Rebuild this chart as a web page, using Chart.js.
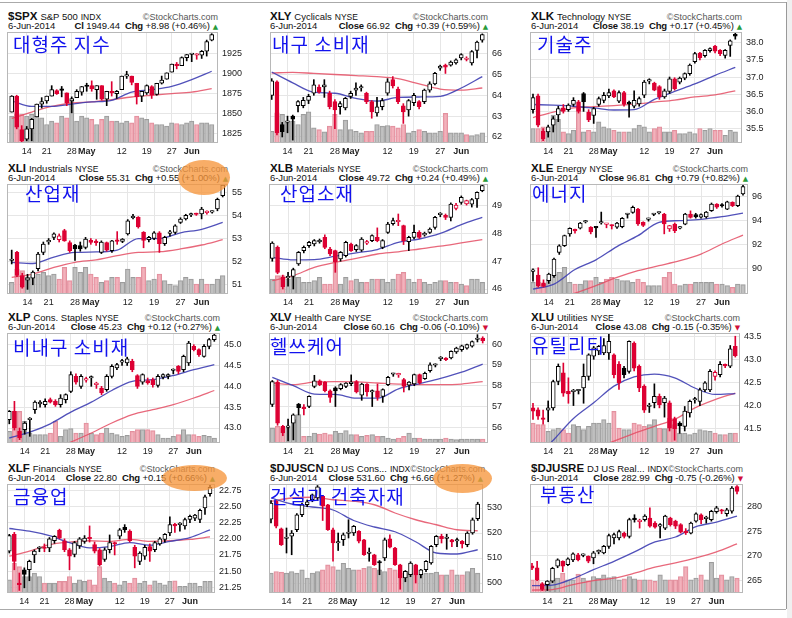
<!DOCTYPE html>
<html>
<head>
<meta charset="utf-8">
<script src="https://cdn.jsdelivr.net/npm/chart.js@4.4.0/dist/chart.umd.min.js"></script>
<style>
  body { margin: 0; width: 792px; height: 618px; overflow: hidden; position: relative; background: #fff;
         font-family: "Liberation Sans", Arial, sans-serif; }
  .abs { position: absolute; }
  .hd { position: absolute; color: #111; white-space: nowrap; }
  .r1, .r2 { display: flex; justify-content: space-between; align-items: baseline; height: 11px; line-height: 11px; }
  .sym { font-weight: bold; font-size: 11.5px; }
  .nm { font-size: 9.5px; margin-left: 3px; }
  .ex { font-size: 8.5px; margin-left: 3px; }
  .logo { font-size: 9px; color: #555; }
  .r2 { font-size: 9.5px; letter-spacing: -0.1px; }
  .cg { margin-left: 5px; }
  .tri { font-family: "DejaVu Sans", sans-serif; font-size: 7px; margin-left: 3px; }
  .ko { position: absolute; font-family: "Noto Sans CJK KR", sans-serif; font-size: 19px; line-height: 19px;
        color: #1212ee; letter-spacing: 1px; white-space: pre; }
  .oval { position: absolute; border-radius: 50%; background: rgba(246,150,60,0.78); }
</style>
</head>
<body>
<script>
// shared x axis: 41 sessions, 9 Apr 2014 .. 6 Jun 2014
const xTickIdx = [3, 7, 12, 15, 22, 27, 32, 36];
const xTickText = ['14', '21', '28', 'May', '12', '19', '27', 'Jun'];
const maIdx = [0, 4, 8, 12, 16, 20, 24, 28, 32, 36, 40];

// $SPX
const spxO = [1852,1872,1830,1818,1831,1846,1862,1866,1872,1879,1881,1876,1866,1870,1877,1885,1885,1880,1885,1868,1878,1875,1880,1897,1897,1888,1872,1876,1884,1874,1888,1893,1902,1911,1910,1920,1924,1923,1923,1928,1942];
const spxH = [1872.5,1873,1835,1834,1844,1862,1870,1872,1885,1880,1884,1876,1871,1880,1884,1888,1891,1885,1885,1878,1890,1879,1897,1903,1897,1888,1878,1886,1885,1888,1897,1901,1912,1914,1921,1924,1925,1925,1929,1942,1950];
const spxL = [1852,1831,1814,1816,1816,1846,1857,1863,1872,1874,1871,1860,1851,1870,1873,1878,1878,1868,1867,1860,1872,1869,1880,1894,1886,1862,1865,1874,1869,1873,1887,1893,1902,1906,1910,1916,1915,1918,1919,1922,1941];
const spxC = [1872,1833,1816,1831,1843,1862,1865,1872,1880,1875,1879,1863,1869,1878,1884,1884,1881,1885,1868,1878,1876,1878,1897,1897,1889,1871,1878,1885,1873,1888,1892,1901,1912,1910,1920,1924,1925,1924,1928,1940,1949];
const spxV = [80,85,85,80,85,80,75,55,65,60,80,75,125,65,80,75,70,55,70,80,65,65,60,65,60,80,75,70,60,55,55,50,60,58,55,60,65,55,60,60,55];
const spxMa1 = [1866,1859,1859,1862,1864.6,1866.7,1877,1880,1884,1892.5,1903];
const spxMa2 = [1844,1852,1859,1863.3,1864.6,1867.5,1870.8,1873,1875,1877,1881.3];
const spxTicks = [1825, 1850, 1875, 1900, 1925];

// XLY
const xlyO = [64.0,64.65,62.6,62.7,63.0,63.5,63.5,63.75,64.1,64.4,64.4,64.1,63.7,63.45,63.4,63.95,64.25,64.35,64.1,63.7,63.15,63.45,64.1,64.75,64.3,63.5,63.3,63.65,63.7,63.7,64.25,64.55,65.3,65.45,65.45,65.55,65.8,65.72,65.55,66.15,66.65];
const xlyH = [64.8,64.7,62.7,63.0,63.05,63.75,63.9,64.05,64.75,64.5,64.75,64.2,63.8,63.7,63.9,64.2,64.6,64.5,64.15,63.75,63.9,63.85,64.8,64.9,64.4,63.6,63.8,64.1,63.75,64.3,64.65,65.1,65.45,65.5,65.65,65.75,66.0,65.85,66.15,66.6,66.95];
const xlyL = [63.8,62.1,62.0,62.2,61.85,63.2,63.4,63.6,64.0,64.1,63.9,63.35,62.4,63.1,63.3,63.85,64.0,64.2,63.6,62.9,63.0,63.3,64.0,64.35,63.6,62.65,63.0,63.5,63.35,63.6,64.15,64.5,65.2,65.05,65.4,65.5,65.7,65.65,65.45,65.8,66.55];
const xlyC = [64.7,62.2,62.25,62.75,62.85,63.7,63.76,63.95,64.5,64.15,64.5,63.45,63.3,63.6,63.85,64.1,64.35,64.4,63.7,63.2,63.45,63.75,64.65,64.45,63.7,63.2,63.75,64.0,63.45,64.25,64.55,65.05,65.4,65.35,65.6,65.7,65.95,65.78,66.1,66.55,66.92];
const xlyV = [35,90,85,60,65,55,85,93,45,40,33,50,85,40,68,40,35,30,35,35,55,50,52,50,45,55,30,35,40,35,30,30,35,88,30,30,30,25,22,25,30];
const xlyMa1 = [65.12,64.6,64.15,64.1,63.85,63.72,63.9,63.92,63.95,64.35,64.9];
const xlyMa2 = [65.07,65.1,65.05,65.0,64.95,64.9,64.8,64.55,64.3,64.25,64.35];
const xlyTicks = [62, 63, 64, 65, 66];

// XLK
const xlkO = [36.05,36.45,35.42,35.4,35.6,35.9,36.1,36.05,36.2,36.28,36.52,35.98,35.88,36.2,36.32,36.45,36.6,36.3,36.55,36.25,36.15,36.22,36.47,36.88,36.82,36.72,36.42,36.58,36.95,36.85,36.97,37.1,37.45,37.7,37.62,37.77,37.9,37.78,37.63,37.92,38.24];
const xlkH = [36.5,36.5,35.5,35.6,35.85,36.15,36.2,36.22,36.4,36.32,36.55,36.05,36.12,36.42,36.55,36.65,36.63,36.6,36.58,36.3,36.6,36.42,36.9,36.95,36.85,36.75,36.65,37.0,36.98,37.0,37.12,37.38,37.72,37.72,37.8,37.85,37.92,37.8,37.8,38.08,38.28];
const xlkL = [35.95,35.55,35.15,35.25,35.4,35.7,35.95,36.0,36.15,35.95,36.0,35.7,35.65,36.15,36.25,36.4,36.4,36.25,36.15,35.83,36.1,36.15,36.4,36.8,36.6,36.35,36.38,36.52,36.62,36.8,36.92,37.05,37.4,37.5,37.58,37.72,37.7,37.62,37.55,37.6,38.1];
const xlkC = [36.4,35.6,35.2,35.55,35.78,36.08,36.0,36.18,36.32,36.0,36.28,35.75,36.08,36.37,36.47,36.55,36.42,36.55,36.2,36.22,36.32,36.37,36.85,36.9,36.62,36.42,36.6,36.95,36.66,36.97,37.1,37.35,37.68,37.56,37.78,37.83,37.75,37.68,37.78,38.05,38.19];
const xlkV = [43,43,48,35,83,70,33,28,38,103,33,38,33,63,48,43,38,33,33,33,43,53,48,33,43,48,33,33,38,28,28,33,28,43,38,43,38,38,23,38,33];
const xlkMa1 = [36.2,36.18,36.15,36.1,36.04,36.05,36.35,36.58,36.8,37.05,37.28];
const xlkMa2 = [35.82,35.98,36.1,36.14,36.17,36.21,36.27,36.33,36.42,36.48,36.6];
const xlkTicks = [35.5, 36, 36.5, 37, 37.5, 38];

// XLI
const xliO = [52.05,52.4,51.4,51.2,51.28,51.7,52.4,52.85,53.05,52.95,53.34,52.82,52.72,52.7,52.62,52.92,52.88,52.4,52.83,52.48,52.92,52.88,53.2,53.9,53.92,53.27,52.95,53.0,53.25,52.78,53.22,53.27,53.7,53.85,54.02,54.07,54.06,54.12,54.14,54.28,54.86];
const xliH = [52.5,52.45,51.5,51.45,51.6,52.4,52.85,53.0,53.25,53.2,53.4,52.9,52.75,52.85,53.05,53.0,52.95,52.9,52.85,52.92,53.3,53.0,53.82,54.05,53.95,53.3,53.1,53.3,53.3,53.1,53.35,53.6,53.9,54.05,54.1,54.1,54.35,54.2,54.2,54.75,55.35];
const xliL = [51.9,51.35,50.85,50.8,51.0,51.6,52.3,52.75,52.95,52.85,52.88,52.4,52.05,52.45,52.55,52.75,52.7,52.35,52.45,52.4,52.75,52.82,53.15,53.85,53.45,52.6,52.85,52.95,52.4,52.7,53.1,53.2,53.65,53.8,53.95,54.0,53.85,54.05,54.1,54.2,54.8];
const xliC = [52.1,51.4,50.9,51.3,51.55,52.33,52.76,52.92,53.2,53.12,52.9,52.48,52.55,52.55,52.98,52.83,52.82,52.85,52.5,52.9,52.88,52.98,53.77,53.92,53.5,52.92,53.05,53.25,52.78,53.05,53.27,53.55,53.84,54.0,54.05,54.04,54.28,54.16,54.18,54.7,55.31];
const xliV = [35,75,70,50,55,60,65,55,60,45,80,40,80,65,80,60,50,35,40,50,50,35,75,50,50,80,40,45,60,40,30,25,40,50,45,30,45,30,30,45,55];
const xliMa1 = [51.97,51.92,52.2,52.4,52.42,52.5,53.0,53.0,53.25,53.4,53.7];
const xliMa2 = [51.32,51.46,51.75,51.97,52.08,52.26,52.4,52.43,52.55,52.72,52.95];
const xliTicks = [51, 52, 53, 54, 55];

// XLB
const xlbO = [47.1,47.5,46.42,46.4,46.45,46.9,47.38,47.56,47.62,47.7,47.86,47.44,47.38,47.08,47.2,47.62,47.42,47.4,47.65,47.74,47.86,47.5,48.04,48.35,48.42,48.28,47.7,47.86,48.04,47.95,48.04,48.22,48.68,48.65,48.58,48.9,49.12,49.06,49.05,49.24,49.54];
const xlbH = [47.7,47.55,46.5,46.6,46.75,47.35,47.55,47.72,47.78,47.8,47.95,47.5,47.4,47.35,47.72,47.65,47.6,47.85,47.75,47.95,48.2,47.78,48.4,48.55,48.7,48.3,47.9,48.3,48.1,48.05,48.2,48.62,48.75,48.7,49.1,49.08,49.35,49.2,49.26,49.5,49.78];
const xlbL = [47.0,46.55,46.0,46.1,46.0,46.85,47.3,47.5,47.55,47.65,47.45,47.2,46.6,47.0,47.15,47.35,47.35,47.35,47.6,47.7,47.7,47.45,48.0,48.3,48.28,47.6,47.38,47.8,47.82,47.9,48.0,48.15,48.6,48.5,48.45,48.85,49.05,49.02,48.95,48.94,49.5];
const xlbC = [47.65,46.6,46.08,46.45,46.7,47.32,47.5,47.68,47.74,47.75,47.5,47.26,46.98,47.32,47.68,47.38,47.56,47.8,47.7,47.92,47.74,47.74,48.34,48.46,48.44,47.74,47.86,48.04,47.86,48.0,48.16,48.58,48.7,48.58,49.06,49.02,49.3,49.18,49.22,49.48,49.72];
const xlbV = [45,55,55,45,50,50,35,35,40,50,30,30,125,30,50,40,45,35,35,45,45,45,35,45,60,65,45,35,45,35,30,35,40,40,35,35,30,25,45,45,35];
const xlbMa1 = [47.14,47.05,47.06,47.18,47.3,47.42,47.68,47.8,48.0,48.32,48.58];
const xlbMa2 = [46.3,46.48,46.78,46.96,47.1,47.26,47.34,47.44,47.54,47.66,47.78];
const xlbTicks = [46, 47, 48, 49];

// XLE
const xleO = [89.8,89.5,88.85,89.03,89.44,91.37,91.92,92.9,93.2,93.36,93.88,93.44,93.45,93.8,93.68,93.6,93.45,93.5,94.5,94.67,94.95,93.85,94.1,94.5,94.62,94.54,93.3,93.7,93.38,93.7,94.54,94.5,94.28,94.3,94.82,95.37,95.3,94.95,95.5,95.23,96.19];
const xleH = [90.0,90.1,89.1,89.65,90.9,92.0,92.8,93.4,93.3,93.85,94.0,93.5,93.5,94.7,93.75,93.65,93.85,94.25,94.6,95.2,95.0,93.9,94.2,94.6,94.7,94.6,93.6,93.8,93.5,94.6,94.8,94.6,94.55,94.75,95.45,95.4,95.4,95.6,95.55,96.1,96.95];
const xleL = [89.0,88.5,88.5,88.8,89.3,91.2,91.85,92.7,92.95,93.3,93.8,92.9,92.6,93.7,93.4,93.3,93.35,93.4,94.2,94.6,93.6,93.5,93.95,94.4,94.55,92.9,93.1,93.0,93.3,93.65,94.2,94.2,94.2,94.2,94.75,95.0,95.1,94.9,95.15,95.15,96.1];
const xleC = [89.9,88.62,88.55,89.58,90.82,91.92,92.75,93.35,93.15,93.8,93.92,93.05,93.4,93.82,93.72,93.55,93.8,94.18,94.55,95.09,93.72,93.6,94.13,94.55,94.66,93.72,93.58,93.16,93.44,94.54,94.26,94.3,94.5,94.7,95.37,95.1,95.2,95.55,95.23,96.02,96.81];
const xleV = [35,35,30,45,60,65,80,35,30,30,40,40,50,35,45,50,45,40,40,35,45,35,25,25,25,50,65,30,25,30,30,35,35,35,35,30,30,25,20,30,28];
const xleMa1 = [88.34,88.75,89.95,90.75,91.85,92.75,93.85,94.0,94.1,94.32,94.62];
const xleMa2 = [87.0,87.5,88.0,88.62,89.3,89.86,90.27,90.68,91.23,92.06,92.8];
const xleTicks = [90, 92, 94, 96];

// XLP
const xlpO = [43.2,43.4,42.92,42.96,43.2,43.44,43.58,43.56,43.68,43.64,43.56,43.68,43.88,44.24,44.0,44.15,44.2,44.04,43.96,43.92,44.24,44.44,44.58,44.56,44.6,44.26,44.1,44.14,44.16,44.02,44.22,44.24,44.38,44.48,44.4,44.56,44.96,44.88,44.72,44.96,45.12];
const xlpH = [43.42,43.64,43.0,43.15,43.25,43.65,43.66,43.7,43.72,43.68,43.8,43.82,44.35,44.3,44.28,44.22,44.25,44.1,44.0,44.28,44.52,44.55,44.65,44.7,44.65,44.28,44.3,44.2,44.2,44.28,44.3,44.3,44.42,44.5,44.75,45.08,45.0,44.9,45.0,45.15,45.28];
const xlpL = [43.1,42.95,42.72,42.85,42.8,43.35,43.5,43.5,43.6,43.52,43.5,43.6,43.85,44.05,43.95,44.1,44.0,43.95,43.8,43.88,44.2,44.4,44.5,44.5,44.35,43.95,44.05,44.05,43.98,43.98,44.18,44.18,44.3,44.3,44.35,44.5,44.85,44.72,44.7,44.9,45.08];
const xlpC = [43.4,43.0,42.76,43.12,43.22,43.62,43.62,43.64,43.62,43.56,43.72,43.8,44.28,44.1,44.24,44.18,44.22,44.07,43.84,44.24,44.48,44.52,44.6,44.66,44.4,44.0,44.28,44.08,44.04,44.24,44.28,44.28,44.4,44.36,44.72,45.04,44.88,44.76,44.96,45.12,45.23];
const xlpV = [35,95,95,65,30,25,25,25,30,65,20,40,43,30,30,60,30,25,30,45,30,25,20,23,35,40,40,40,37,25,15,15,20,25,40,25,25,20,23,20,15];
const xlpMa1 = [42.76,42.9,43.1,43.38,43.62,43.9,44.12,44.16,44.26,44.4,44.52];
const xlpMa2 = [42.0,42.25,42.45,42.66,42.88,43.12,43.32,43.44,43.56,43.72,43.9];
const xlpTicks = [43, 43.5, 44, 44.5, 45];

// XLV
const xlvO = [57.1,58.18,56.05,56.0,56.2,57.12,56.92,57.0,57.97,58.24,58.18,57.76,57.9,57.86,57.97,58.1,58.2,57.54,58.08,57.7,57.76,57.49,58.05,58.55,58.52,58.29,58.02,58.08,58.53,58.34,58.72,58.98,59.3,59.33,59.33,59.62,59.73,59.8,59.9,60.22,60.29];
const xlvH = [58.25,58.25,56.1,56.4,56.65,57.15,57.1,57.52,58.5,58.28,58.2,57.8,57.95,58.1,58.15,58.52,58.25,58.12,58.1,57.8,58.08,57.85,58.45,58.6,58.6,58.35,58.2,58.56,58.56,58.65,59.1,59.05,59.4,59.35,59.68,59.85,59.95,60.0,60.15,60.45,60.35];
const xlvL = [57.0,56.1,55.6,55.35,55.4,56.6,56.6,56.95,57.9,58.0,57.7,57.2,57.0,57.8,57.9,58.0,57.65,57.3,57.5,57.0,57.3,57.2,58.0,58.45,58.4,57.7,57.8,58.0,58.08,58.3,58.65,58.9,59.2,59.2,59.28,59.55,59.65,59.75,59.85,60.1,60.05];
const xlvC = [58.2,56.2,55.73,56.05,56.6,56.95,56.9,57.49,58.24,58.05,57.76,57.44,57.75,58.05,58.13,58.18,57.7,58.08,57.7,57.76,57.44,57.81,58.4,58.57,58.53,57.97,58.18,58.53,58.13,58.6,59.0,59.0,59.33,59.25,59.65,59.81,59.92,59.97,60.12,60.22,60.16];
const xlvV = [45,50,45,45,70,85,20,20,30,27,30,25,35,30,37,25,25,20,23,25,20,20,15,12,15,20,30,15,15,12,12,12,12,15,12,10,12,12,12,12,12];
const xlvMa1 = [58.4,58.0,57.6,57.58,57.4,57.4,57.85,58.1,58.35,58.65,59.04];
const xlvMa2 = [58.13,58.05,58.18,58.2,58.18,58.13,58.08,58.05,58.05,58.08,58.2];
const xlvTicks = [56, 57, 58, 59, 60];

// XLU
const xluO = [41.95,41.91,41.73,41.9,41.95,42.52,42.71,42.31,42.3,42.32,42.38,42.63,43.07,43.18,43.14,43.14,43.1,42.89,42.81,42.74,43.35,42.85,42.42,41.98,42.06,42.2,42.06,42.06,41.72,41.62,41.55,41.84,42.12,42.09,42.34,42.34,42.63,42.67,42.88,42.85,43.28];
const xluH = [42.05,41.95,41.9,42.1,42.55,42.9,42.92,42.6,42.35,42.35,42.9,43.12,43.28,43.3,43.45,43.55,43.12,42.95,42.85,43.4,43.38,42.88,42.45,42.05,42.47,42.25,42.2,42.1,41.75,41.65,41.98,42.12,42.18,42.38,42.52,42.78,42.75,42.95,42.9,43.3,43.5];
const xluL = [41.7,41.7,41.6,41.65,41.9,42.45,42.2,42.05,42.0,42.25,42.05,42.55,43.0,43.1,43.1,43.0,42.6,42.35,42.6,42.7,42.75,42.3,41.85,41.85,41.95,41.95,41.75,41.45,41.25,41.4,41.45,41.75,42.05,42.0,42.3,42.3,42.55,42.62,42.82,42.82,43.05];
const xluC = [41.88,41.77,41.7,41.95,42.52,42.85,42.27,42.25,42.32,42.32,42.63,43.1,43.25,43.28,43.3,43.39,42.67,42.49,42.67,43.39,42.81,42.38,41.9,42.0,42.2,42.02,42.16,41.51,41.5,41.56,41.88,42.09,42.14,42.34,42.49,42.74,42.72,42.89,42.86,43.23,43.08];
const xluV = [60,55,55,35,40,45,40,30,55,50,40,50,60,60,70,60,95,45,40,40,60,55,50,55,70,45,43,75,55,30,30,25,30,40,37,35,30,25,25,30,30];
const xluMa1 = [40.8,41.25,41.72,42.06,42.42,42.62,42.68,42.6,42.38,42.24,42.26];
const xluMa2 = [40.6,40.75,40.9,41.05,41.23,41.4,41.55,41.7,41.95,42.13,42.27];
const xluTicks = [41.5, 42, 42.5, 43, 43.5];

// XLF
const xlfO = [21.81,22.07,21.3,21.52,21.52,21.75,21.85,21.87,21.86,21.97,22.13,21.97,21.83,21.76,21.89,21.96,22.02,21.91,21.83,21.68,21.83,21.93,22.04,22.18,22.12,21.87,21.65,21.73,21.88,21.83,21.92,21.99,22.09,22.21,22.22,22.2,22.3,22.32,22.3,22.48,22.7];
const xlfH = [22.07,22.1,21.47,21.55,21.67,21.83,21.88,21.92,22.02,22.05,22.15,22.0,21.85,21.96,22.02,22.05,22.2,21.95,21.85,21.86,22.06,21.95,22.16,22.22,22.14,21.9,21.8,21.9,21.92,21.96,22.02,22.08,22.34,22.24,22.25,22.32,22.37,22.38,22.46,22.68,22.84];
const xlfL = [21.78,21.52,21.2,21.24,21.35,21.63,21.8,21.8,21.8,21.93,22.0,21.8,21.52,21.72,21.85,21.93,21.95,21.78,21.58,21.65,21.78,21.75,22.0,22.1,21.95,21.55,21.6,21.68,21.65,21.8,21.9,21.95,22.05,22.1,22.12,22.15,22.25,22.28,22.25,22.38,22.66];
const xlfC = [22.05,21.65,21.29,21.45,21.65,21.81,21.86,21.85,22.0,22.04,22.01,21.83,21.73,21.94,22.0,22.01,22.0,21.81,21.6,21.83,21.94,21.92,22.14,22.14,21.97,21.73,21.78,21.87,21.81,21.94,22.0,22.07,22.22,22.2,22.23,22.3,22.35,22.37,22.44,22.65,22.8];
const xlfV = [40,90,80,50,50,60,50,30,30,30,35,35,50,30,40,35,40,25,80,45,35,30,25,35,30,45,30,35,25,37,30,25,35,37,20,20,30,30,20,35,35];
const xlfMa1 = [22.16,22.12,22.05,21.94,21.86,21.88,21.94,21.9,21.96,22.02,22.14];
const xlfMa2 = [21.73,21.81,21.91,21.95,21.97,21.96,21.99,21.96,21.97,21.99,22.03];
const xlfTicks = [21.25, 21.5, 21.75, 22, 22.25, 22.5, 22.75];

// $DJUSCN
const cnO = [525.5,532.7,521.7,517.8,518.7,521.3,527.3,531.3,533.3,534,534.7,531.3,521.3,516,517.3,519.8,520,520.7,517.3,511.8,511.3,508.3,510,517.7,514,507.3,502,503.3,507.3,503.3,505.3,508,515.3,518.7,517.8,517.3,516.8,516.7,515.3,520,525.7];
const cnH = [533,533,522,522,521,527.8,532,533.2,535.6,539,535,531.5,522,520,520,525.3,523,521,517.5,514,511.5,509,518,519.3,514.3,507.5,505,508.5,507.5,505.5,509,515,519,519.5,519.5,517.5,518,517,520.5,526,532.3];
const cnL = [524,522,515,512,511.3,520.5,526.5,530.5,532.5,533,525,521,508.7,513,515,518,519,516,511,508.7,507,503.3,509,514,507,497.5,500.5,502.5,500,502,504.5,507.5,514.5,516,513.5,514.5,514.5,514,514.5,519.5,525];
const cnC = [532,522.7,515.3,518,520,527.3,531.3,532.5,535.3,538.5,530.7,521.3,516,516.4,519.3,520,522.7,516.7,511.3,512,507.3,508,517.3,514.3,507.3,502,504.7,508,503.3,505.3,508.7,514.7,518.7,517.7,518,516.4,517,515.6,520,525.3,531.6];
const cnV = [60,65,63,60,65,60,70,45,60,65,70,85,80,70,90,75,70,70,75,80,75,70,65,75,70,60,65,60,55,55,60,60,63,55,55,70,55,55,65,75,60];
const cnMa1 = [534,531.6,530.4,529.2,525,522.4,520.5,516.5,512,511.6,513.3];
const cnMa2 = [532.7,534,534.3,533.3,532.7,531.3,528,525.3,523.3,521.3,520.9];
const cnTicks = [500, 510, 520, 530];

// $DJUSRE
const reO = [268.0,267.6,264.3,264.2,264.9,267.9,268.9,268.2,269.2,270.2,270.1,269.9,269.6,270.8,270.6,271.9,273.6,273.6,274.6,273.9,277.4,276.9,277.3,277.6,276.6,276,275.6,277.6,277,276.3,274.9,274.6,277,278.3,277.5,277.3,278.9,279.1,278.5,279,284];
const reH = [268.5,268.9,264.6,265,267.7,269.4,269,269.6,270.6,270.5,270.4,270,270.9,271.2,272.1,274.4,274.6,275.2,274.8,277.6,278.3,277.4,278.3,279.7,276.9,276.5,278.2,277.8,277.2,276.5,275.5,276.8,278.7,278.5,278,279.2,280,279.4,279.6,284,284.2];
const reL = [267.2,265,263,263,264.6,267.6,266.8,268,268.8,269,269.8,268.6,268.4,270.4,270.4,271.5,272.4,273.2,273.6,273.6,276.8,275.6,277,275.8,275.6,273.6,275.3,276,275.5,274.6,274.3,274.4,276.8,276.5,276.6,277,278.6,278.5,278,278.6,282.5];
const reC = [267.5,265.2,263.2,264.9,267.5,269.2,267.9,269.4,270.4,269.2,270.2,268.9,270.6,270.9,271.9,274.1,274.3,274.9,273.9,277.3,277.3,277.0,278.0,276.0,275.8,276.3,278,276.3,276,274.8,274.7,276.6,278.5,277.3,277.6,279,279.7,279.0,279.3,283.7,283.0];
const reV = [40,40,30,30,40,45,60,40,40,57,45,37,50,45,55,47,50,40,43,50,43,40,40,40,35,55,40,40,40,50,80,40,45,55,40,93,45,55,40,50,45];
const reMa1 = [264.0,264.1,265.4,267.2,268.9,270.8,272.8,273.8,275.9,276.8,278.0];
const reMa2 = [263.1,263.2,264.2,265.0,265.5,266.5,267.7,268.6,269.6,270.8,272.4];
const reTicks = [265, 270, 275, 280];

const panels = [
  { sym: '$SPX', name: 'S&P 500', ex: 'INDX', cl: 'Cl', last: '1949.44', chg: '+8.98 (+0.46%)', ko: '대형주 지수',
    o: spxO, h: spxH, l: spxL, c: spxC, v: spxV, ma1: spxMa1, ma2: spxMa2, ticks: spxTicks, dec: 0, min: 1813.3, max: 1952.1 },
  { sym: 'XLY', name: 'Cyclicals', ex: 'NYSE', cl: 'Close', last: '66.92', chg: '+0.39 (+0.59%)', ko: '내구 소비재',
    o: xlyO, h: xlyH, l: xlyL, c: xlyC, v: xlyV, ma1: xlyMa1, ma2: xlyMa2, ticks: xlyTicks, dec: 0, min: 61.71, max: 67.04 },
  { sym: 'XLK', name: 'Technology', ex: 'NYSE', cl: 'Close', last: '38.19', chg: '+0.17 (+0.45%)', ko: '기술주',
    o: xlkO, h: xlkH, l: xlkL, c: xlkC, v: xlkV, ma1: xlkMa1, ma2: xlkMa2, ticks: xlkTicks, dec: 1, min: 35.08, max: 38.31 },
  { sym: 'XLI', name: 'Industrials', ex: 'NYSE', cl: 'Close', last: '55.31', chg: '+0.55 (+1.00%)', ko: '산업재',
    o: xliO, h: xliH, l: xliL, c: xliC, v: xliV, ma1: xliMa1, ma2: xliMa2, ticks: xliTicks, dec: 0, min: 50.6, max: 55.36 },
  { sym: 'XLB', name: 'Materials', ex: 'NYSE', cl: 'Close', last: '49.72', chg: '+0.24 (+0.49%)', ko: '산업소재',
    o: xlbO, h: xlbH, l: xlbL, c: xlbC, v: xlbV, ma1: xlbMa1, ma2: xlbMa2, ticks: xlbTicks, dec: 0, min: 45.82, max: 49.78 },
  { sym: 'XLE', name: 'Energy', ex: 'NYSE', cl: 'Close', last: '96.81', chg: '+0.79 (+0.82%)', ko: '에너지',
    o: xleO, h: xleH, l: xleL, c: xleC, v: xleV, ma1: xleMa1, ma2: xleMa2, ticks: xleTicks, dec: 0, min: 87.93, max: 97.02 },
  { sym: 'XLP', name: 'Cons. Staples', ex: 'NYSE', cl: 'Close', last: '45.23', chg: '+0.12 (+0.27%)', ko: '비내구 소비재',
    o: xlpO, h: xlpH, l: xlpL, c: xlpC, v: xlpV, ma1: xlpMa1, ma2: xlpMa2, ticks: xlpTicks, dec: 1, min: 42.64, max: 45.28 },
  { sym: 'XLV', name: 'Health Care', ex: 'NYSE', cl: 'Close', last: '60.16', chg: '-0.06 (-0.10%)', ko: '헬쓰케어',
    o: xlvO, h: xlvH, l: xlvL, c: xlvC, v: xlvV, ma1: xlvMa1, ma2: xlvMa2, ticks: xlvTicks, dec: 0, min: 55.25, max: 60.53 },
  { sym: 'XLU', name: 'Utilities', ex: 'NYSE', cl: 'Close', last: '43.08', chg: '-0.15 (-0.35%)', ko: '유틸리티',
    o: xluO, h: xluH, l: xluL, c: xluC, v: xluV, ma1: xluMa1, ma2: xluMa2, ticks: xluTicks, dec: 1, min: 41.19, max: 43.57 },
  { sym: 'XLF', name: 'Financials', ex: 'NYSE', cl: 'Close', last: '22.80', chg: '+0.15 (+0.66%)', ko: '금융업',
    o: xlfO, h: xlfH, l: xlfL, c: xlfC, v: xlfV, ma1: xlfMa1, ma2: xlfMa2, ticks: xlfTicks, dec: 2, min: 21.16, max: 22.85 },
  { sym: '$DJUSCN', name: 'DJ US Cons...', ex: 'INDX', cl: 'Close', last: '531.60', chg: '+6.66 (+1.27%)', ko: '건설과 건축자재',
    o: cnO, h: cnH, l: cnL, c: cnC, v: cnV, ma1: cnMa1, ma2: cnMa2, ticks: cnTicks, dec: 0, min: 496, max: 539.6 },
  { sym: '$DJUSRE', name: 'DJ US Real...', ex: 'INDX', cl: 'Close', last: '282.99', chg: '-0.75 (-0.26%)', ko: '부동산',
    o: reO, h: reH, l: reL, c: reC, v: reV, ma1: reMa1, ma2: reMa2, ticks: reTicks, dec: 0, min: 262.5, max: 284.5 }
];

// plot box per panel: left, right, top, bottom, first candle x, last candle x, korean label x, y
const boxes = [
  [7, 218, 32, 143, 11.7, 211.7, 13, 34], [270, 488, 32, 143, 271.7, 482.3, 272, 34], [530, 742, 32, 143, 533, 735.3, 537, 34],
  [7, 228, 184, 294, 11.7, 222.7, 25, 183], [269, 488, 184, 294, 272.3, 482.3, 280, 183], [530, 748, 184, 294, 533, 743, 532, 183],
  [7, 220, 333, 443, 9.3, 214.3, 13, 337], [269, 488, 333, 443, 272.3, 482.7, 270, 336], [530, 740, 333, 443, 533, 735.3, 531, 335],
  [7, 215, 484, 593, 9.3, 210, 13, 486], [269, 483, 484, 593, 271, 477.7, 270, 486], [530, 743, 484, 593, 532, 737, 540, 484]
];
const titleX = [8, 270, 531];
const ovals = [[178, 160, 52, 35], [162, 465, 65, 26], [433, 464, 59, 29]];

const RED = '#dd0033', BLACK = '#000';
const FONT = '"Liberation Sans", Arial, sans-serif';
const TOP_PAD = 6, YAX_W = 32, XAX_H = 16;

function addDiv(cls, css, html) {
  const d = document.createElement('div');
  d.className = cls;
  Object.assign(d.style, css);
  if (html !== undefined) d.innerHTML = html;
  document.body.appendChild(d);
  return d;
}

// page frame
addDiv('abs', { left: '0px', top: '2px', width: '786px', height: '1px', background: '#aaa' });
addDiv('abs', { left: '786px', top: '2px', width: '1px', height: '607px', background: '#999' });
addDiv('abs', { left: '787px', top: '0px', width: '5px', height: '618px', background: '#f0f0f0' });
addDiv('abs', { left: '0px', top: '609px', width: '786px', height: '1px', background: '#aaa' });

const framePlugin = {
  id: 'frame',
  afterDraw(chart) {
    const a = chart.chartArea, g = chart.ctx;
    g.save();
    g.strokeStyle = '#b8b8b8';
    g.lineWidth = 1;
    g.strokeRect(a.left + 0.5, a.top + 0.5, a.right - a.left - 1, a.bottom - a.top - 1);
    g.restore();
  }
};

panels.forEach((p, k) => {
  const [L, R, T, B, f, la, kx, ky] = boxes[k];
  const s = (la - f) / 40;
  const xmin = -(f - L) / s, xmax = 40 + (R - la) / s;
  const up = p.chg[0] !== '-';

  // header
  const tx = titleX[k % 3];
  addDiv('hd', { left: tx + 'px', top: (T - 23) + 'px', width: (R - tx) + 'px' },
    `<div class="r1"><span><span class="sym">${p.sym}</span><span class="nm">${p.name}</span><span class="ex">${p.ex}</span></span>` +
    `<span class="logo">&copy;StockCharts.com</span></div>` +
    `<div class="r2"><span>6-Jun-2014</span><span><b>${p.cl}</b> ${p.last}<b class="cg">Chg</b> ${p.chg}` +
    `<span class="tri" style="color:${up ? '#2a9a3a' : '#d0103a'}">${up ? '&#9650;' : '&#9660;'}</span></span></div>`);

  // chart
  const cv = document.createElement('canvas');
  const W = R - L + YAX_W, H = B - T + TOP_PAD + XAX_H;
  cv.width = W; cv.height = H;
  Object.assign(cv.style, { position: 'absolute', left: L + 'px', top: (T - TOP_PAD) + 'px', width: W + 'px', height: H + 'px' });
  document.body.appendChild(cv);

  const col = p.c.map((c, i) => c < (i ? p.c[i - 1] : p.o[0]) ? RED : BLACK);
  const fill = p.c.map((c, i) => c < p.o[i] ? col[i] : '#fff');
  const volFill = col.map(c => c === RED ? 'rgba(240,165,176,0.85)' : 'rgba(186,186,186,0.9)');
  const volEdge = col.map(c => c === RED ? '#e2909e' : '#9c9c9c');

  new Chart(cv, {
    type: 'bar',
    data: {
      datasets: [
        { type: 'bar', yAxisID: 'yv', data: p.v.map((v, i) => ({ x: i, y: v })), backgroundColor: volFill,
          borderColor: volEdge, borderWidth: 1, barThickness: s - 0.6, grouped: false, order: 5 },
        { type: 'line', yAxisID: 'y', data: maIdx.map((x, j) => ({ x, y: p.ma2[j] })), borderColor: 'rgba(228,78,100,0.85)',
          borderWidth: 1.3, pointRadius: 0, cubicInterpolationMode: 'monotone', order: 4 },
        { type: 'line', yAxisID: 'y', data: maIdx.map((x, j) => ({ x, y: p.ma1[j] })), borderColor: 'rgba(62,62,178,0.9)',
          borderWidth: 1.3, pointRadius: 0, cubicInterpolationMode: 'monotone', order: 3 },
        { type: 'bar', yAxisID: 'y', data: p.l.map((lo, i) => ({ x: i, y: [lo, p.h[i]] })), backgroundColor: col,
          barThickness: 1, grouped: false, order: 2 },
        { type: 'bar', yAxisID: 'y', data: p.o.map((o, i) => ({ x: i, y: [o, p.c[i]] })), backgroundColor: fill,
          borderColor: col, borderWidth: 1, borderSkipped: false, minBarLength: 1.5, barThickness: 4, grouped: false, order: 1 }
      ]
    },
    options: {
      responsive: false,
      animation: false,
      events: [],
      layout: { padding: { top: TOP_PAD, left: 0, right: 0, bottom: 0 }, autoPadding: false },
      plugins: { legend: { display: false }, tooltip: { enabled: false } },
      scales: {
        x: {
          type: 'linear', min: xmin, max: xmax, offset: false,
          afterBuildTicks: a => { a.ticks = xTickIdx.map(v => ({ value: v })); },
          afterFit: a => { a.height = XAX_H; a.paddingLeft = 0; a.paddingRight = 0; },
          grid: { color: '#e6e6e6', drawTicks: false, offset: false },
          border: { display: false },
          ticks: {
            autoSkip: false, maxRotation: 0, padding: 3, color: '#222',
            callback: v => xTickText[xTickIdx.indexOf(v)],
            font: c => ({ family: FONT, size: 9, weight: (c.tick && /[a-z]/i.test(c.tick.label)) ? 'bold' : 'normal' })
          }
        },
        y: {
          type: 'linear', position: 'right', min: p.min, max: p.max,
          afterBuildTicks: a => { a.ticks = p.ticks.map(v => ({ value: v })); },
          afterFit: a => { a.width = YAX_W; a.paddingTop = 0; a.paddingBottom = 0; },
          grid: { color: '#e6e6e6', drawTicks: false },
          border: { display: false },
          ticks: { padding: 4, color: '#222', font: { family: FONT, size: 9 }, callback: v => v.toFixed(p.dec) }
        },
        yv: { type: 'linear', display: false, min: 0, max: 330 }
      }
    },
    plugins: [framePlugin]
  });

  addDiv('ko', { left: kx + 'px', top: ky + 'px' }, p.ko);
});

ovals.forEach(([x, y, w, h]) => addDiv('oval', { left: x + 'px', top: y + 'px', width: w + 'px', height: h + 'px' }));
</script>
</body>
</html>
